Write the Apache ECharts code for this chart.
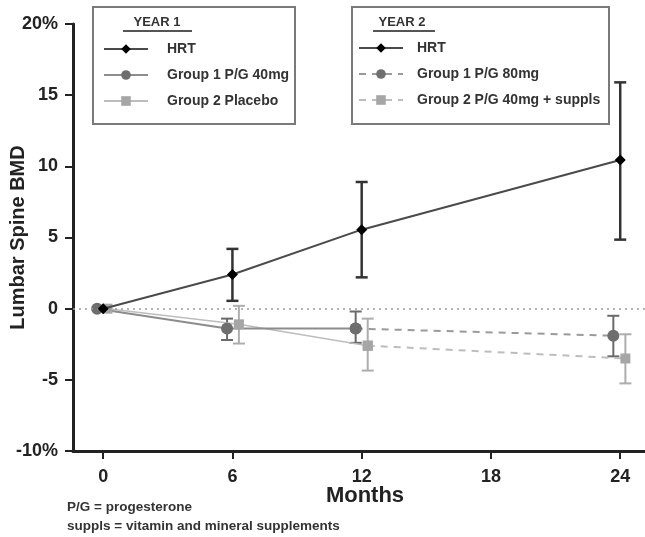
<!DOCTYPE html>
<html>
<head>
<meta charset="utf-8">
<script src="https://cdn.jsdelivr.net/npm/echarts@6/dist/echarts.min.js"></script>
<style>
  html, body { margin: 0; padding: 0; background: #fff; }
  #chart { width: 645px; height: 537px; }
</style>
</head>
<body>
<div id="chart"></div>
<script>
// Percent change in lumbar spine BMD over two years
const monthTicks = [0, 6, 12, 18, 24];

const hrtMonths = [0, 6, 12, 24];
const hrtMean = [0, 2.4, 5.55, 10.45];
const hrtLow = [0, 0.55, 2.2, 4.85];
const hrtHigh = [0, 4.2, 8.9, 15.9];

// the two progesterone groups sit a little either side of each visit month
const g1Months = [-0.28, 5.75, 11.72, 23.68];
const g1Mean = [0, -1.4, -1.4, -1.9];
const g1Low = [0, -2.2, -2.4, -3.35];
const g1High = [0, -0.7, -0.2, -0.5];

const g2Months = [0.2, 6.3, 12.28, 24.24];
const g2Mean = [0, -1.1, -2.6, -3.5];
const g2Low = [0, -2.45, -4.35, -5.25];
const g2High = [0, 0.2, -0.7, -1.8];

const FONT = "'Liberation Sans', Arial, Helvetica, sans-serif";

function points(xs, ys, from, to) {
  const out = [];
  for (let i = from; i <= to; i++) out.push([xs[i], ys[i]]);
  return out;
}
function bars(xs, lo, hi) {
  const out = [];
  for (let i = 0; i < xs.length; i++) {
    if (lo[i] !== hi[i]) out.push([xs[i], lo[i], hi[i]]);
  }
  return out;
}
function errorBarRenderer(color, width, cap) {
  return function (params, api) {
    const x = api.value(0);
    const lo = api.coord([x, api.value(1)]);
    const hi = api.coord([x, api.value(2)]);
    const h = cap / 2;
    const style = { stroke: color, lineWidth: width, fill: null };
    return {
      type: 'group',
      children: [
        { type: 'line', shape: { x1: lo[0], y1: lo[1], x2: hi[0], y2: hi[1] }, style: style },
        { type: 'line', shape: { x1: lo[0] - h, y1: lo[1], x2: lo[0] + h, y2: lo[1] }, style: style },
        { type: 'line', shape: { x1: hi[0] - h, y1: hi[1], x2: hi[0] + h, y2: hi[1] }, style: style }
      ]
    };
  };
}

const HRT_LINE = '#4a4a4a', HRT_MARK = '#000000', HRT_BAR = '#333333';
const G1_LINE = '#8c8c8c', G1_MARK = '#6e6e6e', G1_BAR = '#6a6a6a';
const G2_LINE = '#bdbdbd', G2_MARK = '#a6a6a6', G2_BAR = '#adadad';

const chart = echarts.init(document.getElementById('chart'), null, { renderer: 'canvas' });

function legendText(gap) {
  return { fontFamily: FONT, fontSize: 14, fontWeight: 'bold', color: '#333', padding: [0, 0, 0, gap] };
}

chart.setOption({
  backgroundColor: '#ffffff',
  animation: false,
  textStyle: { fontFamily: FONT },
  grid: { left: 73, right: 0, top: 24, bottom: 86, containLabel: false, outerBoundsMode: 'none' },
  xAxis: {
    type: 'value',
    min: -1.4,
    max: 25.15,
    name: 'Months',
    nameLocation: 'middle',
    nameGap: 34,
    nameMoveOverlap: false,
    nameTextStyle: { fontFamily: FONT, fontSize: 22, fontWeight: 'bold', color: '#222', padding: [0, 0, 0, 12] },
    axisLine: { onZero: false, lineStyle: { color: '#222', width: 3 } },
    axisTick: { show: true, length: 8, lineStyle: { color: '#222', width: 2 }, customValues: monthTicks },
    axisLabel: { fontFamily: FONT, fontSize: 18, fontWeight: 'bold', color: '#222', margin: 17, customValues: monthTicks },
    splitLine: { show: false }
  },
  yAxis: {
    type: 'value',
    min: -10,
    max: 20,
    interval: 5,
    name: 'Lumbar Spine BMD',
    nameLocation: 'middle',
    nameGap: 45,
    nameMoveOverlap: false,
    nameTextStyle: { fontFamily: FONT, fontSize: 20, fontWeight: 'bold', color: '#222' },
    axisLine: { show: true, onZero: false, lineStyle: { color: '#222', width: 3 } },
    axisTick: { show: true, length: 8, lineStyle: { color: '#222', width: 2 } },
    axisLabel: {
      fontFamily: FONT, fontSize: 18, fontWeight: 'bold', color: '#222', margin: 15,
      formatter: function (v) { return (v === 20 || v === -10) ? v + '%' : String(v); }
    },
    splitLine: { show: false }
  },
  legend: [
    {
      data: ['HRT', 'Group 1 P/G 40mg', 'Group 2 Placebo'],
      orient: 'vertical', left: 103, top: 42, padding: 0,
      itemWidth: 44, itemHeight: 12, itemGap: 12,
      selectedMode: false, textStyle: legendText(14)
    },
    {
      data: ['HRT', 'Group 1 P/G 80mg', 'Group 2 P/G 40mg + suppls'],
      orient: 'vertical', left: 358, top: 41, padding: 0,
      itemWidth: 44, itemHeight: 12, itemGap: 12,
      selectedMode: false, textStyle: legendText(9)
    }
  ],
  graphic: [
    { type: 'rect', z: 0, shape: { x: 93, y: 7, width: 202, height: 117 }, style: { fill: '#fff', stroke: '#7a7a7a', lineWidth: 2 } },
    { type: 'rect', z: 0, shape: { x: 352, y: 7, width: 257, height: 117 }, style: { fill: '#fff', stroke: '#7a7a7a', lineWidth: 2 } },
    { type: 'text', z: 1, x: 157, y: 22, style: { text: 'YEAR 1', font: 'bold 13px ' + FONT, fill: '#333', align: 'center', verticalAlign: 'middle' } },
    { type: 'line', z: 1, shape: { x1: 123, y1: 31, x2: 192, y2: 31 }, style: { stroke: '#555', lineWidth: 2 } },
    { type: 'text', z: 1, x: 402, y: 22, style: { text: 'YEAR 2', font: 'bold 13px ' + FONT, fill: '#333', align: 'center', verticalAlign: 'middle' } },
    { type: 'line', z: 1, shape: { x1: 373, y1: 31, x2: 435, y2: 31 }, style: { stroke: '#555', lineWidth: 2 } },
    { type: 'text', x: 67, y: 507, style: { text: 'P/G = progesterone', font: 'bold 13.5px ' + FONT, fill: '#333', verticalAlign: 'middle' } },
    { type: 'text', x: 67, y: 526, style: { text: 'suppls = vitamin and mineral supplements', font: 'bold 13.5px ' + FONT, fill: '#333', verticalAlign: 'middle' } }
  ],
  series: [
    // error bars
    { type: 'custom', z: 2, renderItem: errorBarRenderer(G2_BAR, 2, 12), encode: { x: 0, y: [1, 2] }, data: bars(g2Months, g2Low, g2High) },
    { type: 'custom', z: 2, renderItem: errorBarRenderer(G1_BAR, 2, 12), encode: { x: 0, y: [1, 2] }, data: bars(g1Months, g1Low, g1High) },
    { type: 'custom', z: 3, renderItem: errorBarRenderer(HRT_BAR, 2.5, 12), encode: { x: 0, y: [1, 2] }, data: bars(hrtMonths, hrtLow, hrtHigh) },
    // year 2 (dashed) segments
    {
      name: 'Group 2 P/G 40mg + suppls', type: 'line', z: 3,
      data: points(g2Months, g2Mean, 2, 3),
      symbol: 'rect', symbolSize: 10,
      lineStyle: { color: G2_LINE, width: 2, type: [7, 6] },
      itemStyle: { color: G2_MARK }
    },
    {
      name: 'Group 1 P/G 80mg', type: 'line', z: 3,
      data: points(g1Months, g1Mean, 2, 3),
      symbol: 'circle', symbolSize: 12,
      lineStyle: { color: '#9a9a9a', width: 2, type: [7, 6] },
      itemStyle: { color: G1_MARK }
    },
    // year 1 (solid) segments
    {
      name: 'Group 2 Placebo', type: 'line', z: 4,
      data: points(g2Months, g2Mean, 0, 2),
      symbol: 'rect', symbolSize: 10,
      lineStyle: { color: G2_LINE, width: 1.5 },
      itemStyle: { color: G2_MARK }
    },
    {
      name: 'Group 1 P/G 40mg', type: 'line', z: 4,
      data: points(g1Months, g1Mean, 0, 2),
      symbol: 'circle', symbolSize: 12,
      lineStyle: { color: G1_LINE, width: 2 },
      itemStyle: { color: G1_MARK }
    },
    {
      name: 'HRT', type: 'line', z: 5,
      data: points(hrtMonths, hrtMean, 0, 3),
      symbol: 'diamond', symbolSize: 11,
      lineStyle: { color: HRT_LINE, width: 2 },
      itemStyle: { color: HRT_MARK },
      markLine: {
        silent: true, symbol: 'none', label: { show: false },
        lineStyle: { color: '#9a9a9a', width: 1.5, type: [2, 4] },
        data: [{ yAxis: 0 }]
      }
    }
  ]
});
</script>
</body>
</html>
